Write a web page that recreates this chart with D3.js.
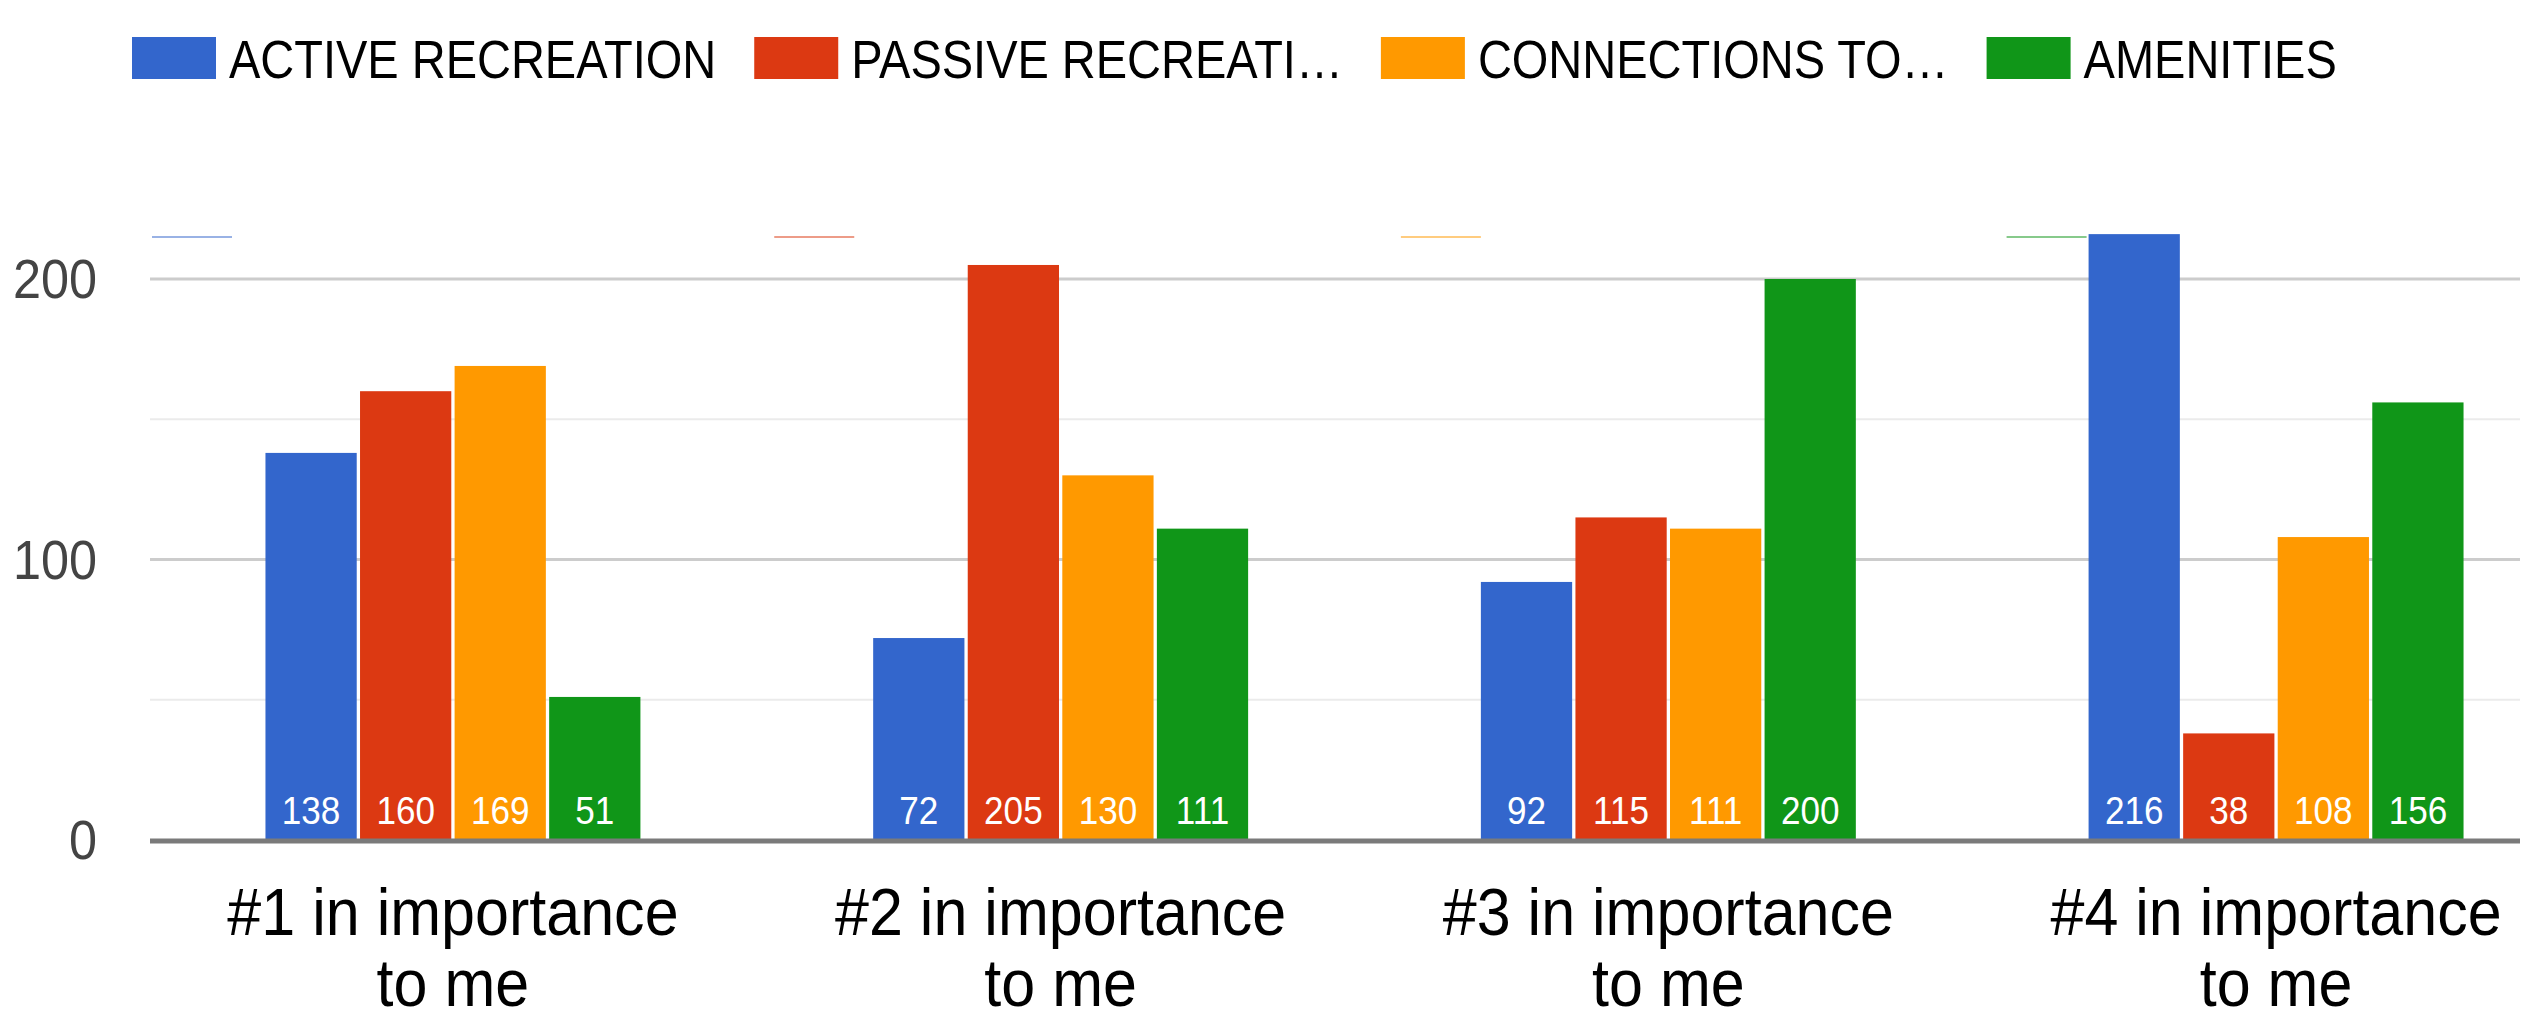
<!DOCTYPE html>
<html>
<head>
  <meta charset="UTF-8">
  <title></title>
  <style>
    body { margin: 0; background: #fff; }
    text { font-family: 'Liberation Sans', Arial, sans-serif; }
    .ytick { fill: #444; font-size: 56px; text-anchor: end; }
    .vlabel { fill: #fff; font-size: 39px; text-anchor: middle; }
    .catlabel { fill: #000; font-size: 66px; text-anchor: middle; }
    .legend text { fill: #000; font-size: 54px; }
  </style>
</head>
<body>
  <script src="https://d3js.org/d3.v7.min.js"></script>
  <script>
    var categories = ["#1 in importance to me", "#2 in importance to me", "#3 in importance to me", "#4 in importance to me"];
    var catLines = [["#1 in importance", "to me"], ["#2 in importance", "to me"], ["#3 in importance", "to me"], ["#4 in importance", "to me"]];
    var seriesNames = ["ACTIVE RECREATION", "PASSIVE RECREATI\u2026", "CONNECTIONS TO\u2026", "AMENITIES"];
    var seriesColors = ["#3366cc", "#dc3912", "#ff9900", "#109618"];
    var activeRec = [138, 72, 92, 216];
    var passiveRec = [160, 205, 115, 38];
    var connections = [169, 130, 111, 108];
    var amenities = [51, 111, 200, 156];
    var yTicks = [0, 100, 200];
    var yMinor = [50, 150];

    var series = [activeRec, passiveRec, connections, amenities];
    var sx = 0.9;   // picture is squeezed sideways a bit

    var width = 2532, height = 1011;
    var svg = d3.select("body").append("svg")
        .attr("width", width)
        .attr("height", height);

    var x0 = d3.scaleBand()
        .domain(d3.range(categories.length))
        .range([150, 2579])
        .paddingInner(0.383)
        .paddingOuter(0.19);

    var x1 = d3.scaleBand()
        .domain(d3.range(series.length))
        .range([0, x0.bandwidth()])
        .paddingInner(0.035);

    var y = d3.scaleLinear().domain([0, 200]).range([840, 279]);

    // gridlines
    svg.append("g").selectAll("line.minor")
      .data(yMinor)
      .enter().append("line")
        .attr("x1", 150).attr("x2", 2520)
        .attr("y1", function(d) { return y(d); })
        .attr("y2", function(d) { return y(d); })
        .attr("stroke", "#ebebeb")
        .attr("stroke-width", 2);

    svg.append("g").selectAll("line.major")
      .data(yTicks.filter(function(d) { return d > 0; }))
      .enter().append("line")
        .attr("x1", 150).attr("x2", 2520)
        .attr("y1", function(d) { return y(d); })
        .attr("y2", function(d) { return y(d); })
        .attr("stroke", "#cccccc")
        .attr("stroke-width", 3);

    svg.append("g").selectAll("text")
      .data(yTicks)
      .enter().append("text")
        .attr("class", "ytick")
        .attr("transform", function(d) { return "translate(97," + (y(d) + 19) + ") scale(" + sx + ",1)"; })
        .text(function(d) { return d; });

    // bars
    var groups = svg.append("g").selectAll("g")
      .data(categories)
      .enter().append("g")
        .attr("transform", function(d, i) { return "translate(" + x0(i) + ",0)"; });

    groups.selectAll("rect")
      .data(function(d, i) { return series.map(function(s, j) { return {s: j, v: s[i]}; }); })
      .enter().append("rect")
        .attr("x", function(d) { return x1(d.s); })
        .attr("width", x1.bandwidth())
        .attr("y", function(d) { return y(d.v); })
        .attr("height", function(d) { return y(0) - y(d.v); })
        .attr("fill", function(d) { return seriesColors[d.s]; });

    groups.selectAll("text")
      .data(function(d, i) { return series.map(function(s, j) { return {s: j, v: s[i]}; }); })
      .enter().append("text")
        .attr("class", "vlabel")
        .attr("transform", function(d) { return "translate(" + (x1(d.s) + x1.bandwidth() / 2) + "," + (y(0) - 16) + ") scale(" + sx + ",1)"; })
        .text(function(d) { return d.v; });

    // baseline
    svg.append("line")
      .attr("x1", 150).attr("x2", 2520)
      .attr("y1", y(0) + 1).attr("y2", y(0) + 1)
      .attr("stroke", "#7a7a7a")
      .attr("stroke-width", 5);

    // category labels
    var cat = svg.append("g").selectAll("g")
      .data(catLines)
      .enter().append("g")
        .attr("transform", function(d, i) { return "translate(" + (x0(i) + x0.bandwidth() / 2) + ",0) scale(0.925,1)"; });

    cat.selectAll("text")
      .data(function(d) { return d; })
      .enter().append("text")
        .attr("class", "catlabel")
        .attr("y", function(d, i) { return 935 + i * 71; })
        .text(function(d) { return d; });

    // legend
    var legend = svg.append("g").attr("class", "legend");
    var lsx = 0.87;
    var lx = 132;
    seriesNames.forEach(function(name, i) {
      var item = legend.append("g").attr("transform", "translate(" + lx + ",0)");
      item.append("rect")
        .attr("x", 0).attr("y", 37)
        .attr("width", 84).attr("height", 42)
        .attr("fill", seriesColors[i]);
      // faint leftover key line under the chart top
      svg.append("line")
        .attr("x1", lx + 20).attr("x2", lx + 100)
        .attr("y1", 237).attr("y2", 237)
        .attr("stroke", seriesColors[i])
        .attr("stroke-opacity", 0.5)
        .attr("stroke-width", 2);
      var t = item.append("text")
        .attr("transform", "translate(97,78) scale(" + lsx + ",1)")
        .text(name);
      lx += 97 + t.node().getComputedTextLength() * lsx + 38;
    });
  </script>
</body>
</html>
